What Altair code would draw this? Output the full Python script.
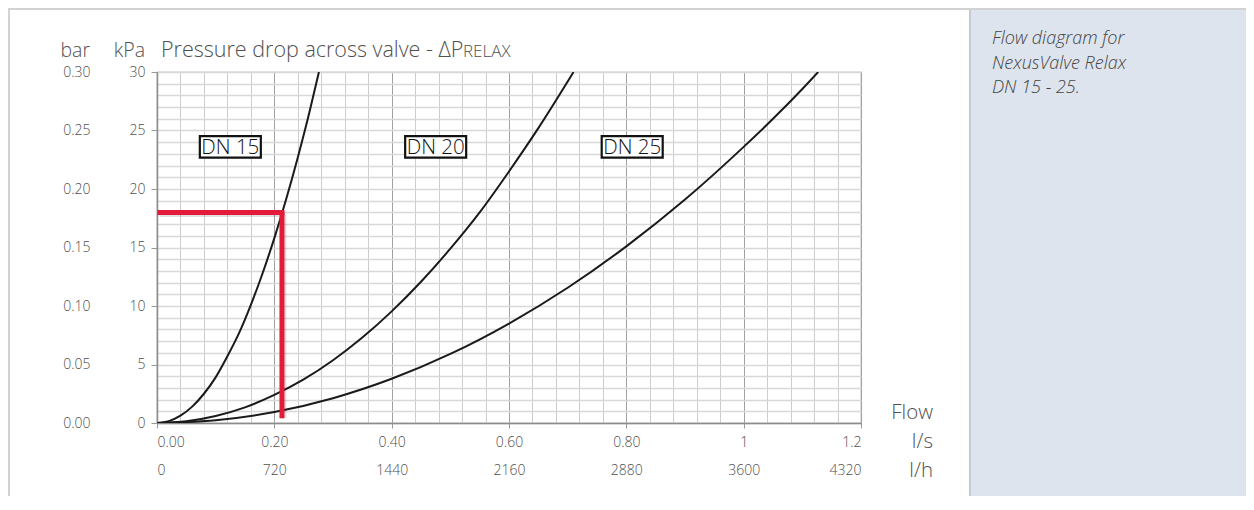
import altair as alt
import pandas as pd

# ---- data ----
dn15_flow = [0.0, 0.02, 0.04, 0.06, 0.08, 0.10, 0.12, 0.14, 0.16, 0.18, 0.20, 0.22, 0.24, 0.26, 0.276]
dn15_kpa = [0.0, 0.16, 0.63, 1.4, 2.5, 3.9, 5.7, 7.7, 10.1, 12.8, 15.8, 19.1, 22.7, 26.6, 30.0]
dn20_flow = [0.0, 0.05, 0.10, 0.15, 0.20, 0.25, 0.30, 0.35, 0.40, 0.45, 0.50, 0.55, 0.60, 0.65, 0.71]
dn20_kpa = [0.0, 0.15, 0.6, 1.34, 2.4, 3.72, 5.36, 7.3, 9.54, 12.07, 14.9, 18.0, 21.5, 25.2, 30.0]
dn25_flow = [0.0, 0.1, 0.2, 0.3, 0.4, 0.5, 0.6, 0.7, 0.8, 0.9, 1.0, 1.05, 1.1, 1.127]
dn25_kpa = [0.0, 0.24, 0.94, 2.12, 3.78, 5.9, 8.5, 11.56, 15.1, 19.1, 23.6, 26.0, 28.55, 30.0]

labels = ["DN 15", "DN 20", "DN 25"]
label_flow = [0.125, 0.475, 0.81]
label_kpa = [23.6, 23.6, 23.6]

marker_flow = 0.213
marker_kpa = 18.0

ls_ticks = [0.0, 0.2, 0.4, 0.6, 0.8, 1.0, 1.2]
lh_ticks = [0, 720, 1440, 2160, 2880, 3600, 4320]
kpa_ticks = [0, 5, 10, 15, 20, 25, 30]
bar_ticks = [0.0, 0.05, 0.10, 0.15, 0.20, 0.25, 0.30]
grid_x = [round(i * 0.04, 2) for i in range(31)]
grid_y = list(range(31))

panel_lines = ["Flow diagram for", "NexusValve Relax", "DN 15 - 25."]

FONT = "Open Sans"
GREY = "#505050"

rows = []
for name, fl, kp in [("DN 15", dn15_flow, dn15_kpa), ("DN 20", dn20_flow, dn20_kpa), ("DN 25", dn25_flow, dn25_kpa)]:
    for f, k in zip(fl, kp):
        rows.append({"series": name, "flow": f, "kpa": k})
df = pd.DataFrame(rows)
lab_df = pd.DataFrame({"label": labels, "flow": label_flow, "kpa": label_kpa})
mk_df = pd.DataFrame({"flow": [marker_flow], "kpa": [marker_kpa], "f0": [0.005], "k0": [0.4]})
one = pd.DataFrame({"a": [0]})

xs = alt.Scale(domain=[0, 1.2], nice=False, zero=False)
ys = alt.Scale(domain=[0, 30], nice=False, zero=False)

RIGHT = 1089   # right edge of the drawing, relative to plot origin
BOTTOM = 424

# ---- decorations (frame / side panel) ----
panel = alt.Chart(one).mark_rect(color="#dde4ee").encode(
    x=alt.value(813), x2=alt.value(RIGHT), y=alt.value(-64), y2=alt.value(BOTTOM))
panel_edge = alt.Chart(one).mark_rule(color="#c3cad5", strokeWidth=2).encode(
    x=alt.value(813), y=alt.value(-64), y2=alt.value(BOTTOM))
frame_top = alt.Chart(one).mark_rule(color="#d2d2d2", strokeWidth=2).encode(
    x=alt.value(-149), x2=alt.value(RIGHT), y=alt.value(-63))
frame_left = alt.Chart(one).mark_rule(color="#d2d2d2", strokeWidth=2).encode(
    x=alt.value(-148), y=alt.value(-64), y2=alt.value(BOTTOM))

AX = dict(labelFont=FONT, labelFontSize=14, labelFontWeight=300, labelColor=GREY, title=None)

# ---- grid ----
grid = alt.Chart(df).mark_point(opacity=0).encode(
    x=alt.X("flow:Q", scale=xs, axis=alt.Axis(
        orient="bottom", values=grid_x, grid=True,
        gridColor={"condition": {"test": "abs(datum.value*5 - round(datum.value*5)) < 0.001", "value": "#a0a0a0"}, "value": "#cdcdcd"},
        gridWidth=1, labels=False, ticks=False, domain=False, title=None)),
    y=alt.Y("kpa:Q", scale=ys, axis=alt.Axis(
        orient="left", values=grid_y, grid=True, gridColor="#d8d8d8", gridWidth=1.3,
        labels=False, ticks=False, domain=False, title=None)),
)

# ---- curves with main axes ----
curves = alt.Chart(df).mark_line(color="#1a1a1a", strokeWidth=2, interpolate="monotone", clip=True).encode(
    x=alt.X("flow:Q", scale=xs, axis=alt.Axis(
        orient="bottom", values=ls_ticks, grid=False, tickSize=5, tickColor="#999999",
        domainColor="#8c8c8c", domainWidth=1.5, labelPadding=7,
        labelExpr="datum.value == 1 ? '1' : (datum.value > 1.1 ? '1.2' : format(datum.value, '.2f'))", **AX)),
    y=alt.Y("kpa:Q", scale=ys, axis=alt.Axis(
        orient="left", values=kpa_ticks, grid=False, tickSize=6, tickColor="#999999",
        domainColor="#8c8c8c", domainWidth=1.5, labelPadding=6, format="d", **AX)),
    detail="series:N",
)

# ---- secondary axes (l/h and bar) ----
aux = alt.Chart(df).transform_calculate(lh="datum.flow*3600", bar="datum.kpa/100").mark_point(opacity=0).encode(
    x=alt.X("lh:Q", scale=alt.Scale(domain=[0, 4320], nice=False, zero=False), axis=alt.Axis(
        orient="bottom", offset=30, values=lh_ticks, format="d", ticks=False, domain=False, grid=False,
        labelPadding=10, **AX)),
    y=alt.Y("bar:Q", scale=alt.Scale(domain=[0, 0.3], nice=False, zero=False), axis=alt.Axis(
        orient="left", offset=60, values=bar_ticks, format=".2f", ticks=False, domain=False, grid=False,
        labelPadding=7, **AX)),
)

# ---- red reading lines ----
RED = "#e31b3b"
h_shadow = alt.Chart(mk_df).mark_rule(color="#000000", opacity=0.12, strokeWidth=5, xOffset=2, yOffset=2, strokeCap="square").encode(
    x=alt.X("f0:Q", scale=xs, axis=None), x2="flow:Q", y=alt.Y("kpa:Q", scale=ys, axis=None))
v_shadow = alt.Chart(mk_df).mark_rule(color="#000000", opacity=0.12, strokeWidth=5, xOffset=2, yOffset=2).encode(
    x=alt.X("flow:Q", scale=xs, axis=None), y=alt.Y("kpa:Q", scale=ys, axis=None), y2="k0:Q")
h_rule = alt.Chart(mk_df).mark_rule(color=RED, strokeWidth=5, strokeCap="square").encode(
    x=alt.X("f0:Q", scale=xs, axis=None), x2="flow:Q", y=alt.Y("kpa:Q", scale=ys, axis=None))
v_rule = alt.Chart(mk_df).mark_rule(color=RED, strokeWidth=5).encode(
    x=alt.X("flow:Q", scale=xs, axis=None), y=alt.Y("kpa:Q", scale=ys, axis=None), y2="k0:Q")

# ---- DN label boxes ----
boxes = alt.Chart(lab_df).mark_point(
    shape="M-1,-0.35L1,-0.35L1,0.35L-1,0.35Z", size=3721, filled=False, fill="white", fillOpacity=1,
    stroke="#111111", strokeWidth=2.2, opacity=1).encode(
    x=alt.X("flow:Q", scale=xs, axis=None), y=alt.Y("kpa:Q", scale=ys, axis=None))
box_text = alt.Chart(lab_df).mark_text(font=FONT, fontSize=20.5, fontWeight=300, color="#111111", baseline="middle", align="center", dy=1).encode(
    x=alt.X("flow:Q", scale=xs, axis=None), y=alt.Y("kpa:Q", scale=ys, axis=None), text="label:N")

# ---- texts ----
def txt(s, x, y, size, align="left", baseline="alphabetic", color=GREY, style="normal", weight=300):
    kw = dict(font=FONT, fontSize=size, align=align, baseline=baseline, color=color, fontStyle=style, fontWeight=weight)
    return alt.Chart(one).mark_text(**kw).encode(x=alt.value(x), y=alt.value(y), text=alt.value(s))

t_bar = txt("bar", -67, -15, 19.5, align="right")
t_kpa = txt("kPa", -12, -15, 19.5, align="right")
t_title = txt("Pressure drop across valve - ΔP", 4, -15, 21.5)
t_relax = txt("RELAX", 306, -15, 17)
t_flow = txt("Flow", 776, 341, 20.5, align="right", baseline="middle")
t_ls = txt("l/s", 776, 370, 20.5, align="right", baseline="middle")
t_lh = txt("l/h", 776, 399, 20.5, align="right", baseline="middle")
t_panel = [
    txt(line, 835, -33 + 24.5 * i, 18, baseline="middle", color="#444444", style="italic")
    for i, line in enumerate(panel_lines)
]

chart = alt.layer(
    panel, panel_edge, frame_top, frame_left,
    grid, aux, curves,
    h_shadow, v_shadow, h_rule, v_rule,
    boxes, box_text,
    t_bar, t_kpa, t_title, t_relax, t_flow, t_ls, t_lh, *t_panel,
).resolve_scale(x="independent", y="independent").properties(
    width=704, height=351,
    autosize=alt.AutoSizeParams(type="none"),
    padding={"left": 149, "top": 64, "right": 385, "bottom": 73},
).configure_view(stroke="#9a9a9a", strokeWidth=1.2)

chart.save("out.html", embed_options={"renderer": "svg", "actions": False})
